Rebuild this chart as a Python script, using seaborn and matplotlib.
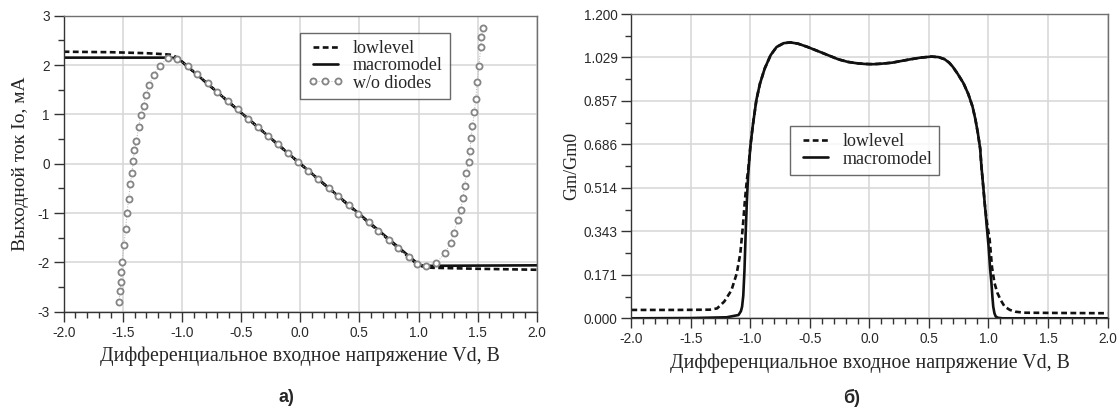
import numpy as np
import pandas as pd
import matplotlib
matplotlib.use("Agg")
import matplotlib.pyplot as plt
from matplotlib.ticker import MultipleLocator, FixedLocator
import seaborn as sns

# ---- panel a) output current vs differential input voltage
a_low_x = [-2.0, -1.6, -1.3, -1.15, -1.10, -1.07, -1.04, -1.0, 0.0, 0.97, 1.0, 1.03, 1.07, 1.12, 1.5, 2.0]
a_low_y = [2.27, 2.26, 2.24, 2.22, 2.21, 2.19, 2.15, 2.07, 0.0, -2.0, -2.05, -2.08, -2.10, -2.11, -2.13, -2.15]

a_macro_x = [-2.0, -1.1, -1.06, -1.03, -1.0, 0.0, 1.0, 1.03, 1.06, 1.1, 2.0]
a_macro_y = [2.15, 2.15, 2.14, 2.11, 2.07, 0.0, -2.04, -2.06, -2.07, -2.07, -2.06]

a_nodiode_x = [-1.532, -1.523, -1.517, -1.511, -1.505, -1.490, -1.475, -1.463, -1.451, -1.436,
               -1.423, -1.411, -1.402, -1.384, -1.366, -1.348, -1.324, -1.306, -1.276, -1.239,
               -1.188, -1.118, -1.04, -0.95, -0.87, -0.78, -0.70, -0.61, -0.53, -0.44, -0.36,
               -0.27, -0.19, -0.10, -0.02, 0.07, 0.15, 0.24, 0.32, 0.41, 0.49, 0.58, 0.66,
               0.75, 0.83, 0.92, 0.99, 1.064, 1.152, 1.221, 1.272, 1.296, 1.336, 1.357, 1.375,
               1.390, 1.405, 1.423, 1.435, 1.444, 1.456, 1.472, 1.484, 1.496, 1.511, 1.526,
               1.532, 1.544]
a_nodiode_y = [-2.81, -2.59, -2.39, -2.19, -1.99, -1.65, -1.32, -0.99, -0.71, -0.42,
               -0.18, 0.05, 0.27, 0.47, 0.74, 0.98, 1.17, 1.39, 1.59, 1.80,
               1.99, 2.14, 2.12, 1.98, 1.81, 1.63, 1.45, 1.27, 1.10, 0.91, 0.74,
               0.56, 0.39, 0.21, 0.04, -0.14, -0.31, -0.49, -0.66, -0.84, -1.01, -1.19, -1.36,
               -1.54, -1.71, -1.89, -2.03, -2.07, -2.01, -1.82, -1.61, -1.40, -1.14, -0.93, -0.70,
               -0.45, -0.18, 0.03, 0.26, 0.52, 0.76, 1.04, 1.32, 1.65, 1.99, 2.36,
               2.57, 2.76]

# ---- panel б) normalized transconductance
b_macro_x = [-2.0, -1.5, -1.2, -1.1, -1.08, -1.07, -1.06, -1.05, -1.04, -1.03, -1.02, -1.0,
             -0.98, -0.95, -0.92, -0.88, -0.83, -0.78, -0.72, -0.665, -0.60, -0.52, -0.44,
             -0.35, -0.26, -0.18, -0.11, -0.04, 0.03, 0.10, 0.19, 0.27, 0.34, 0.43, 0.52,
             0.58, 0.63, 0.67, 0.70, 0.74, 0.79, 0.83, 0.866, 0.89, 0.911, 0.93, 0.941,
             0.956, 0.971, 0.986, 1.001, 1.013, 1.025, 1.033, 1.04, 1.05, 1.061, 1.08, 1.12,
             1.5, 2.0]
b_macro_y = [0.000, 0.001, 0.004, 0.013, 0.028, 0.046, 0.09, 0.19, 0.335, 0.46, 0.56, 0.68,
             0.76, 0.861, 0.925, 0.985, 1.038, 1.070, 1.085, 1.088, 1.083, 1.070, 1.055,
             1.038, 1.021, 1.011, 1.006, 1.003, 1.002, 1.004, 1.008, 1.015, 1.021, 1.028, 1.032,
             1.030, 1.022, 1.008, 0.992, 0.965, 0.927, 0.885, 0.835, 0.785, 0.730, 0.67, 0.598,
             0.52, 0.44, 0.36, 0.283, 0.20, 0.138, 0.085, 0.046, 0.02, 0.007, 0.002, 0.0,
             0.0, 0.0]

b_low_x = [-2.0, -1.6, -1.34, -1.28, -1.22, -1.16, -1.115, -1.085, -1.064, -1.046, -1.03,
           -1.02, -1.0, -0.98, -0.95, -0.92, -0.88, -0.83, -0.78, -0.72, -0.665, -0.60, -0.52,
           -0.44, -0.35, -0.26, -0.18, -0.11, -0.04, 0.03, 0.10, 0.19, 0.27, 0.34, 0.43,
           0.52, 0.58, 0.63, 0.67, 0.70, 0.74, 0.79, 0.83, 0.866, 0.89, 0.911, 0.93, 0.941,
           0.956, 0.971, 0.986, 1.01, 1.03, 1.05, 1.075, 1.105, 1.136, 1.18, 1.226, 1.30,
           1.6, 2.0]
b_low_y = [0.033, 0.033, 0.034, 0.039, 0.066, 0.11, 0.177, 0.256, 0.36, 0.467, 0.545,
           0.58, 0.68, 0.76, 0.861, 0.925, 0.985, 1.038, 1.070, 1.085, 1.088, 1.083, 1.070,
           1.055, 1.038, 1.021, 1.011, 1.006, 1.003, 1.002, 1.004, 1.008, 1.015, 1.021, 1.028,
           1.032, 1.030, 1.022, 1.008, 0.992, 0.965, 0.927, 0.885, 0.835, 0.785, 0.730, 0.67,
           0.598, 0.52, 0.44, 0.38, 0.31, 0.20, 0.14, 0.10, 0.07, 0.046, 0.033, 0.026, 0.022,
           0.021, 0.020]

b_yticks = [0.0, 0.171, 0.343, 0.514, 0.686, 0.857, 1.029, 1.2]
b_yticklabels = ['0.000', '0.171', '0.343', '0.514', '0.686', '0.857', '1.029', '1.200']

xlabel = 'Дифференциальное входное напряжение Vd, В'

sns.set_style('white')
plt.rcParams['font.family'] = ['Liberation Serif', 'DejaVu Serif']
plt.rcParams['axes.unicode_minus'] = False

W, H = 1117, 416
fig = plt.figure(figsize=(W / 100, H / 100), dpi=100)


def px_axes(x0, y0, x1, y1):
    return fig.add_axes([x0 / W, 1 - y1 / H, (x1 - x0) / W, (y1 - y0) / H])


ax1 = px_axes(63.6, 15.7, 536.8, 311.7)
ax2 = px_axes(631.4, 14.0, 1107.5, 318.3)

dash = (0, (2.2, 1.3))
blk = '#111111'

sns.lineplot(x=a_low_x, y=a_low_y, ax=ax1, color=blk, lw=1.9, linestyle=dash,
             estimator=None, sort=False, label='lowlevel')
sns.lineplot(x=a_macro_x, y=a_macro_y, ax=ax1, color=blk, lw=1.9,
             estimator=None, sort=False, label='macromodel')
sns.lineplot(x=a_nodiode_x, y=a_nodiode_y, ax=ax1, color='#b0b0b0', lw=0.7, linestyle=':',
             marker='o', markersize=4.4, markerfacecolor='white', markeredgecolor='#858585',
             markeredgewidth=1.3, estimator=None, sort=False, label='w/o diodes')

sns.lineplot(x=b_low_x, y=b_low_y, ax=ax2, color=blk, lw=1.9, linestyle=dash,
             estimator=None, sort=False, label='lowlevel')
sns.lineplot(x=b_macro_x, y=b_macro_y, ax=ax2, color=blk, lw=1.9,
             estimator=None, sort=False, label='macromodel')

for ax in (ax1, ax2):
    ax.set_xlim(-2.0, 2.0)
    ax.xaxis.set_major_locator(MultipleLocator(0.5))
    ax.xaxis.set_minor_locator(MultipleLocator(0.1))
    ax.set_xticks(ax.get_xticks())
    ax.set_xticklabels([f'{v:.1f}' for v in ax.get_xticks()])
    ax.grid(True, which='major', color='#d6d6d6', lw=1.1)
    ax.set_axisbelow(True)
    for s in ax.spines.values():
        s.set_color('#707070')
        s.set_linewidth(1.0)
    ax.spines['left'].set_color('#333333')
    ax.spines['bottom'].set_color('#333333')
    ax.tick_params(which='major', direction='out', length=7, width=1.0, color='#333333',
                   labelsize=9.8, labelcolor='#2a2a2a', bottom=True, left=True, pad=3)
    ax.tick_params(which='minor', direction='out', length=4, width=1.0, color='#333333',
                   bottom=True, left=True)
    ax.set_xlabel(xlabel, fontsize=14.3, labelpad=5)

ax1.set_ylim(-3, 3)
ax1.yaxis.set_major_locator(MultipleLocator(1))
ax1.yaxis.set_minor_locator(MultipleLocator(0.5))
ax1.set_xlim(-2.0, 2.0)
ax1.set_ylabel('Выходной ток Io, мА', fontsize=14, labelpad=6)

ax2.set_ylim(0, 1.2)
ax2.yaxis.set_major_locator(FixedLocator(b_yticks))
ax2.set_yticklabels(b_yticklabels)
ax2.yaxis.set_minor_locator(FixedLocator([0.0857, 0.2571, 0.4286, 0.6, 0.7714, 0.9429, 1.1143]))
ax2.set_xlim(-2.0, 2.0)
ax2.set_ylabel('Gm/Gm0', fontsize=13, labelpad=2)

for ax in (ax1, ax2):
    for lab in ax.get_xticklabels() + ax.get_yticklabels():
        lab.set_family('Liberation Sans')

leg_kw = dict(fontsize=13, frameon=True, fancybox=False, borderaxespad=0,
              handlelength=2.0, handletextpad=0.5, labelspacing=0.02, borderpad=0.4,
              numpoints=3, loc='upper left')
l1 = ax1.legend(bbox_to_anchor=(0.50, 0.942), **leg_kw)
l2 = ax2.legend(bbox_to_anchor=(0.333, 0.632), **leg_kw)
for lg in (l1, l2):
    lg.get_frame().set_edgecolor('#444444')
    lg.get_frame().set_linewidth(1.0)

fig.text(286 / W, 1 - 398 / H, 'а)', ha='center', va='center', fontsize=13,
         fontweight='bold', family='Liberation Sans')
fig.text(852 / W, 1 - 398 / H, 'б)', ha='center', va='center', fontsize=13,
         fontweight='bold', family='Liberation Sans')

fig.savefig('out.png', dpi=100, facecolor='white')
